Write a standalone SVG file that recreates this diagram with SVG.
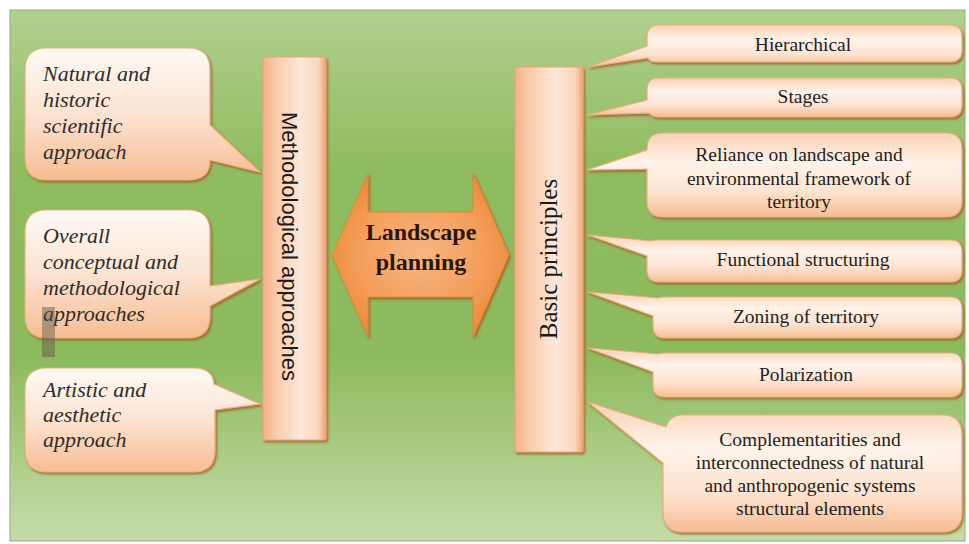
<svg xmlns="http://www.w3.org/2000/svg" width="969" height="544" viewBox="0 0 969 544">
<style>
.bg{fill:url(#gBg);stroke:#93aa80;stroke-width:1}
.cl{fill:url(#gLeft);stroke:#f0ad80;stroke-width:1.2;filter:url(#sh)}
.cr{fill:url(#gRight);stroke:#f0ad80;stroke-width:1.2;filter:url(#sh)}
.bar{fill:url(#gBar);stroke:#f0a474;stroke-width:1.2;filter:url(#sh)}
.arrow{fill:url(#gArrow);stroke:#e8853a;stroke-width:1;filter:url(#sh)}
.ti{font-family:"Liberation Serif","Times New Roman",serif;font-style:italic;font-size:22px;fill:#2c2c2c}
.tr{font-family:"Liberation Serif","Times New Roman",serif;font-size:19.5px;fill:#1f1f1f;text-anchor:middle}
.tv{font-family:"Liberation Sans",Arial,sans-serif;font-size:22px;fill:#1a1a1a;text-anchor:middle}
.tb{font-family:"Liberation Serif","Times New Roman",serif;font-size:25px;fill:#1a1a1a;text-anchor:middle}
.tc{font-family:"Liberation Serif","Times New Roman",serif;font-size:24px;font-weight:bold;fill:#2a1608;text-anchor:middle}
</style>
<defs>
<linearGradient id="gBg" x1="0" y1="0" x2="0" y2="1">
<stop offset="0" stop-color="#b0d090"/>
<stop offset="0.3" stop-color="#8fbc5f"/>
<stop offset="0.65" stop-color="#8cba5c"/>
<stop offset="1" stop-color="#c6dcaa"/>
</linearGradient>
<linearGradient id="gLeft" x1="0" y1="0" x2="0" y2="1">
<stop offset="0" stop-color="#fefaf6"/>
<stop offset="0.5" stop-color="#fce3d1"/>
<stop offset="1" stop-color="#f6bd92"/>
</linearGradient>
<linearGradient id="gRight" x1="0" y1="0" x2="0" y2="1">
<stop offset="0" stop-color="#f9d1b3"/>
<stop offset="0.35" stop-color="#fff3ea"/>
<stop offset="0.7" stop-color="#fde3d0"/>
<stop offset="1" stop-color="#f6bd92"/>
</linearGradient>
<linearGradient id="gBar" x1="0" y1="0" x2="1" y2="0">
<stop offset="0" stop-color="#f5b088"/>
<stop offset="0.2" stop-color="#f9caa9"/>
<stop offset="0.6" stop-color="#fde8dc"/>
<stop offset="0.88" stop-color="#fbd6bd"/>
<stop offset="1" stop-color="#f0a070"/>
</linearGradient>
<radialGradient id="gArrow" cx="0.5" cy="0.5" r="0.6">
<stop offset="0" stop-color="#f7b684"/>
<stop offset="0.6" stop-color="#f39e5a"/>
<stop offset="1" stop-color="#ec8534"/>
</radialGradient>
<filter id="sh" x="-10%" y="-10%" width="120%" height="125%">
<feDropShadow dx="1.5" dy="2" stdDeviation="0.8" flood-color="#9a6020" flood-opacity="0.8"/>
</filter>
</defs>

<rect id="background" class="bg" x="10" y="10" width="955" height="531"/>

<g id="connectors"></g>

<g id="natural-historic">
<path class="cl" d="M47,48 H188 Q210,48 210,70 V125 L260,172 L210,160 Q210,180 188,180 H47 Q25,180 25,158 V70 Q25,48 47,48 Z"/>
<text class="ti" x="43" y="81">Natural and</text>
<text class="ti" x="43" y="107">historic</text>
<text class="ti" x="43" y="133">scientific</text>
<text class="ti" x="43" y="159">approach</text>
</g>

<g id="overall-conceptual">
<path class="cl" d="M47,210 H188 Q210,210 210,232 V286 L260,279 L210,306 V316 Q210,338 188,338 H47 Q25,338 25,316 V232 Q25,210 47,210 Z"/>
<text class="ti" x="43" y="243">Overall</text>
<text class="ti" x="43" y="269">conceptual and</text>
<text class="ti" x="43" y="295">methodological</text>
<text class="ti" x="43" y="321">approaches</text>
</g>

<rect id="artifact" x="42" y="307" width="13" height="50" fill="#5a5548" opacity="0.45"/>

<g id="artistic-aesthetic">
<path class="cl" d="M47,368 H193 Q213,368 214,384 L260,404 L215,410 V450 Q215,472 193,472 H47 Q25,472 25,450 V390 Q25,368 47,368 Z"/>
<text class="ti" x="43" y="397">Artistic and</text>
<text class="ti" x="43" y="422">aesthetic</text>
<text class="ti" x="43" y="447">approach</text>
</g>

<g id="methodological-approaches">
<rect class="bar" x="263" y="57" width="63" height="383" rx="2"/>
<text class="tv" transform="translate(282,246.5) rotate(90)">Methodological approaches</text>
</g>

<g id="landscape-planning">
<polygon class="arrow" points="332,255 368,173 368,212 473,212 473,173 509,255 473,337 473,297 368,297 368,337"/>
<text class="tc" x="421" y="240">Landscape</text>
<text class="tc" x="421" y="270">planning</text>
</g>

<g id="basic-principles">
<rect class="bar" x="515" y="67" width="68" height="385" rx="2"/>
<text class="tb" transform="translate(557,259) rotate(-90)">Basic principles</text>
</g>

<g id="hierarchical">
<path class="cr" d="M659,25 H950 Q962,25 962,37 V50 Q962,62 950,62 H656 Q650,62 648,58 L588,67 L647,46 V37 Q647,25 659,25 Z"/>
<text class="tr" x="803" y="51">Hierarchical</text>
</g>

<g id="stages">
<path class="cr" d="M659,78 H950 Q962,78 962,90 V105 Q962,117 950,117 H659 Q652,117 649,113 L588,115 L647,100 V90 Q647,78 659,78 Z"/>
<text class="tr" x="803" y="103">Stages</text>
</g>

<g id="reliance">
<path class="cr" d="M663,133 H946 Q962,133 962,149 V201 Q962,217 946,217 H663 Q647,217 647,201 V169 L587,170 L647,150 V149 Q647,133 663,133 Z"/>
<text class="tr" x="799" y="161">Reliance on landscape and</text>
<text class="tr" x="799" y="185">environmental framework of</text>
<text class="tr" x="799" y="208">territory</text>
</g>

<g id="functional-structuring">
<path class="cr" d="M659,240 H950 Q962,240 962,252 V270 Q962,282 950,282 H659 Q647,282 647,270 V256 L588,235 L651,241 Q655,240 659,240 Z"/>
<text class="tr" x="803" y="266">Functional structuring</text>
</g>

<g id="zoning-of-territory">
<path class="cr" d="M665,297 H950 Q962,297 962,309 V326 Q962,338 950,338 H665 Q653,338 653,326 V316 L588,292 L658,298 Q661,297 665,297 Z"/>
<text class="tr" x="806" y="323">Zoning of territory</text>
</g>

<g id="polarization">
<path class="cr" d="M665,353 H950 Q962,353 962,365 V385 Q962,397 950,397 H665 Q653,397 653,385 V372 L588,348 L658,354 Q661,353 665,353 Z"/>
<text class="tr" x="806" y="381">Polarization</text>
</g>

<g id="complementarities">
<path class="cr" d="M683,415 H942 Q962,415 962,435 V512 Q962,532 942,532 H683 Q663,532 663,512 V463 L588,402 L666,427 Q670,415 683,415 Z"/>
<text class="tr" x="810" y="446">Complementarities and</text>
<text class="tr" x="810" y="469">interconnectedness of natural</text>
<text class="tr" x="810" y="492">and anthropogenic systems</text>
<text class="tr" x="810" y="515">structural elements</text>
</g>
</svg>
